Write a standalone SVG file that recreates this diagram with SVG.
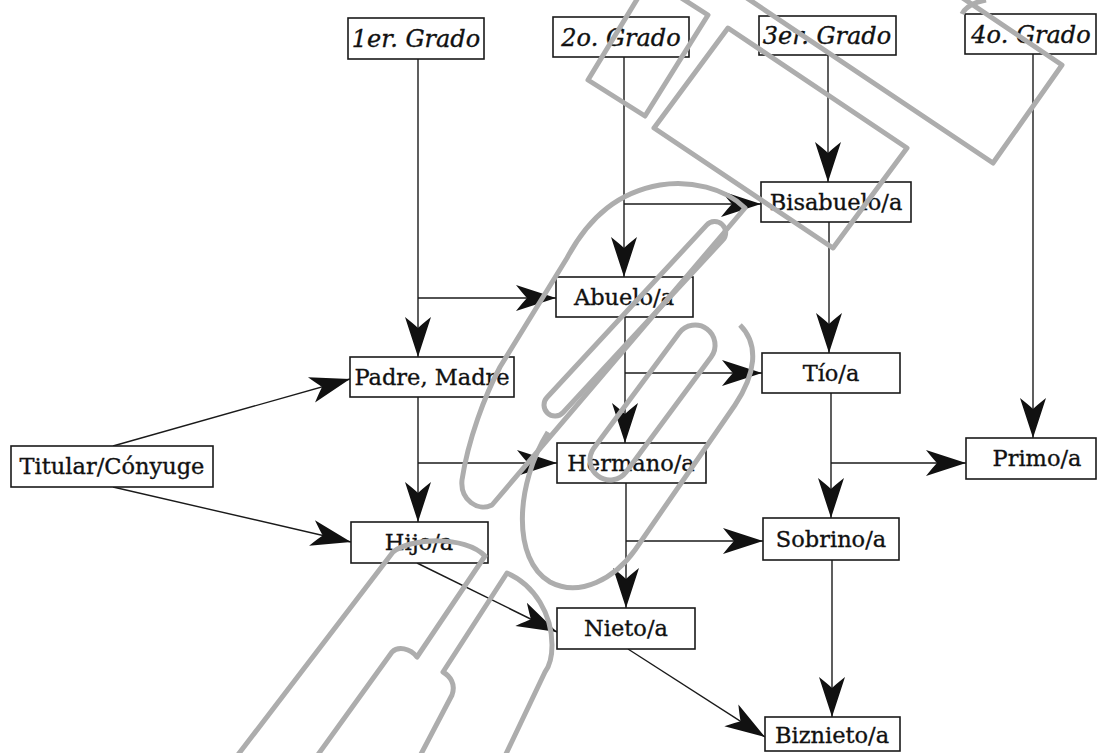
<svg xmlns="http://www.w3.org/2000/svg" width="1097" height="753" viewBox="0 0 1097 753">
<style>
.box{fill:#fff;stroke:#1a1a1a;stroke-width:1.6}
.t{font-family:"DejaVu Serif","Liberation Serif",serif;font-size:22.5px;fill:#111;stroke:#111;stroke-width:0.35;text-anchor:middle}
.g{font-style:italic;font-size:24px}
.c{fill:none;stroke:#1a1a1a;stroke-width:1.4;marker-end:url(#ah)}
.w{fill:none;stroke:#adadad;stroke-width:5;stroke-linejoin:round}
</style>
<defs>
<marker id="ah" markerUnits="userSpaceOnUse" viewBox="-44 -16 46 32" markerWidth="46" markerHeight="32" refX="0" refY="0" orient="auto">
<path d="M0,0 L-40,-13 Q-32,-3 -29,0 Q-32,3 -40,13 Z" fill="#111"/>
</marker>
</defs>
<rect width="1097" height="753" fill="#fff"/>
<g id="connectors">
<path class="c" d="M418,59 V357"/>
<path class="c" d="M418,298 H556"/>
<path class="c" d="M624,57 V277"/>
<path class="c" d="M624,204 H761"/>
<path class="c" d="M828,55 V182"/>
<path class="c" d="M1033,54 V438"/>
<path class="c" d="M829,222 V353"/>
<path class="c" d="M625,317 V443"/>
<path class="c" d="M625,373 H762"/>
<path class="c" d="M418,397 V522"/>
<path class="c" d="M418,463 H557"/>
<path class="c" d="M831,393 V518"/>
<path class="c" d="M831,463 H966"/>
<path class="c" d="M626,483 V608"/>
<path class="c" d="M626,541 H763"/>
<path class="c" d="M832,560 V717"/>
<path class="c" d="M113,446 L350,379"/>
<path class="c" d="M113,487 L351,542"/>
<path class="c" d="M417,563 L557,632"/>
<path class="c" d="M628,649 L765,737"/>
</g>
<g id="g1"><rect class="box" x="348" y="18" width="136" height="41"/><text class="t g" x="416" y="47">1er. Grado</text></g>
<g id="g2"><rect class="box" x="553" y="17" width="136" height="40"/><text class="t g" x="621" y="46">2o. Grado</text></g>
<g id="g3"><rect class="box" x="759" y="16" width="137" height="39"/><text class="t g" x="827" y="44">3er. Grado</text></g>
<g id="g4"><rect class="box" x="965" y="14" width="131" height="40"/><text class="t g" x="1031" y="43">4o. Grado</text></g>
<g id="bisabuelo"><rect class="box" x="761" y="182" width="150" height="40"/><text class="t" x="836" y="210">Bisabuelo/a</text></g>
<g id="abuelo"><rect class="box" x="556" y="277" width="137" height="40"/><text class="t" x="624" y="305">Abuelo/a</text></g>
<g id="padre"><rect class="box" x="350" y="357" width="164" height="40"/><text class="t" x="432" y="385">Padre, Madre</text></g>
<g id="tio"><rect class="box" x="762" y="353" width="138" height="40"/><text class="t" x="831" y="381">Tío/a</text></g>
<g id="titular"><rect class="box" x="11" y="446" width="202" height="41"/><text class="t" x="112" y="474">Titular/Cónyuge</text></g>
<g id="hermano"><rect class="box" x="557" y="443" width="149" height="40"/><text class="t" x="631" y="471">Hermano/a</text></g>
<g id="primo"><rect class="box" x="966" y="438" width="130" height="41"/><text class="t" x="1037" y="466">Primo/a</text></g>
<g id="hijo"><rect class="box" x="351" y="522" width="137" height="41"/><text class="t" x="419" y="550">Hijo/a</text></g>
<g id="sobrino"><rect class="box" x="763" y="518" width="136" height="42"/><text class="t" x="831" y="547">Sobrino/a</text></g>
<g id="nieto"><rect class="box" x="557" y="608" width="138" height="41"/><text class="t" x="626" y="636">Nieto/a</text></g>
<g id="biznieto"><rect class="box" x="765" y="717" width="135" height="34"/><text class="t" x="832" y="743">Biznieto/a</text></g>
<g id="watermark">
<polygon class="w" points="650,-22 708,15 645,116 588,80"/>
<polygon class="w" points="728,28 907,148 833,248 654,128"/>
<polygon class="w" points="714,-24 993,163 1062,65 930,-24"/>
<path class="w" d="M962,14 C966,6 975,2 986,0"/>
<path class="w" d="M745,208 C725,188 690,180 660,185 C620,192 590,215 567,258 L500,367 C485,395 468,440 462,480 C460,500 478,512 492,505 Z"/>
<rect class="w" transform="translate(555,405) rotate(-47.2)" x="-11" y="-11" width="257" height="22" rx="11"/>
<rect class="w" transform="translate(610,460) rotate(-53.5)" x="-20" y="-20" width="183" height="40" rx="20"/>
<path class="w" d="M548,432 C515,485 512,560 550,582 C580,598 615,578 635,550 L735,405 C755,375 760,345 740,325"/>
<path class="w" d="M237,756 L393,552 C410,538 465,535 485,556 L417,657 C410,648 398,646 392,652 L317,756"/>
<path class="w" d="M420,756 L452,695 C456,684 450,676 443,672 L507,573 C535,585 552,615 552,645 C552,660 548,668 545,672 L505,756"/>
</g>
</svg>
